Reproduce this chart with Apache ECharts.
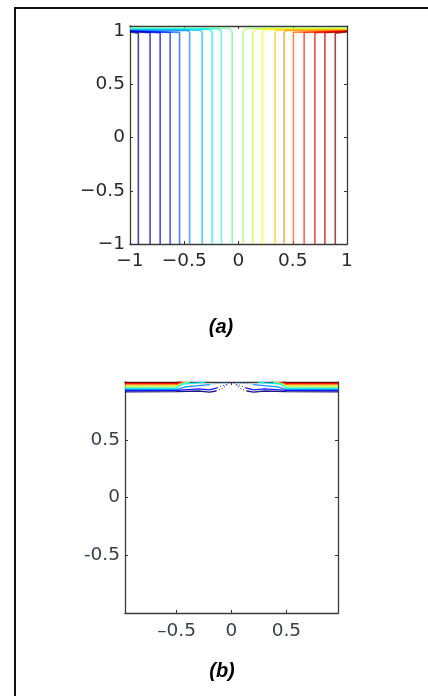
<!DOCTYPE html>
<html><head><meta charset="utf-8">
<script src="https://cdn.jsdelivr.net/npm/echarts@6/dist/echarts.min.js"></script>
<style>html,body{margin:0;padding:0;background:#fff}#c{width:428px;height:696px}</style>
</head><body><div id="c"></div>
<script>
// ---------- Panel (a) data ----------
const aTicks = [-1, -0.5, 0, 0.5, 1];
// x position of each vertical contour line
const aLevels = [-0.923,-0.815,-0.722,-0.63,-0.543,-0.45,-0.335,-0.243,-0.157,-0.058,0.04,0.132,0.22,0.336,0.42,0.506,0.605,0.704,0.796,0.892];
// y where each contour runs horizontally to the side wall
const aTopY = [0.995,0.998,1.0,1.003,1.006,1.009,1.013,1.018,1.024,1.03,1.03,1.024,1.018,1.013,1.009,1.006,1.003,1.0,0.998,0.995];
// bend radius of each contour
const aBend = [0.012,0.012,0.012,0.014,0.016,0.02,0.025,0.03,0.038,0.045,0.045,0.038,0.03,0.025,0.02,0.016,0.014,0.012,0.012,0.012];

// ---------- Panel (b) data ----------
const bXTicks = [-0.5, 0, 0.5];
const bYTicks = [-0.5, 0, 0.5];
// contour level colour positions (jet colormap) and left-half paths
const bLevelT = [1, 0.875, 0.75, 0.625, 0.5, 0.375, 0.25, 0.125, 0];
const bC0 = [[-0.97,0.995],[-0.5,0.995],[-0.47,1.0]];
const bC1 = [[-0.97,0.985],[-0.5,0.985],[-0.45,1.0]];
const bC2 = [[-0.97,0.975],[-0.5,0.975],[-0.43,1.0]];
const bC3 = [[-0.97,0.965],[-0.5,0.965],[-0.41,1.0]];
const bC4 = [[-0.97,0.955],[-0.5,0.955],[-0.44,0.985],[-0.38,1.0]];
const bC5 = [[-0.97,0.945],[-0.5,0.945],[-0.45,0.982],[-0.3,0.992],[-0.24,1.0]];
const bC6 = [[-0.97,0.935],[-0.5,0.935],[-0.42,0.958],[-0.3,0.968],[-0.2,0.978]];
const bC7 = [[-0.97,0.925],[-0.5,0.927],[-0.3,0.94],[-0.2,0.932],[-0.13,0.95]];
const bC8 = [[-0.97,0.915],[-0.5,0.917],[-0.3,0.922],[-0.2,0.912],[-0.14,0.922]];
const bD6 = [[-0.2,0.978],[-0.1,0.99],[-0.03,0.998]];
const bD7 = [[-0.13,0.95],[-0.06,0.975],[-0.02,0.995]];
const bD8 = [[-0.14,0.922],[-0.08,0.945],[-0.03,0.985]];
const bSolid = [bC0,bC1,bC2,bC3,bC4,bC5,bC6,bC7,bC8];
const bDotted = [null,null,null,null,null,null,bD6,bD7,bD8];

function jet(t){
  const c = v => Math.round(255*Math.max(0, Math.min(1, 1.5 - Math.abs(v))));
  return 'rgb(' + c(4*t-3) + ',' + c(4*t-2) + ',' + c(4*t-1) + ')';
}

const series = [];
// panel (a) contours, inner ones first so outer ones sit on top in the band
const order = aLevels.map((v,i)=>i).sort((p,q)=>Math.abs(aLevels[p])-Math.abs(aLevels[q]));
order.forEach(i => {
  const x0 = aLevels[i], yh = aTopY[i], r = aBend[i];
  const side = x0 < 0 ? -1 : 1;
  const pts = [[x0, -1], [x0, yh - r]];
  for (let k = 1; k <= 6; k++) {
    const th = k / 6 * Math.PI / 2;
    pts.push([x0 + side*(r - r*Math.cos(th)), yh - r + r*Math.sin(th)]);
  }
  pts.push([side, yh]);
  series.push({type:'line', xAxisIndex:0, yAxisIndex:0, data:pts, symbol:'none',
    lineStyle:{color:jet(i/(aLevels.length-1)), width:1.6, opacity:0.72}, silent:true});
});
// panel (b) contours (mirrored halves)
function mirror(p){ return p.map(q=>[-q[0], q[1]]); }
bSolid.forEach((p,i) => {
  const col = jet(bLevelT[i]);
  [p, mirror(p)].forEach(d => series.push({type:'line', xAxisIndex:2, yAxisIndex:2, data:d, symbol:'none',
    lineStyle:{color:col, width:1.3, opacity:0.9}, silent:true}));
  if (bDotted[i]) {
    [bDotted[i], mirror(bDotted[i])].forEach(d => series.push({type:'line', xAxisIndex:2, yAxisIndex:2, data:d, symbol:'none',
      lineStyle:{color:col, width:1.2, type:[1,2], opacity:0.7}, silent:true}));
  }
});

const FONT = 'DejaVu Sans';
function fmtTop(v){ return String(v).replace('-', '\u2212'); }
function fmtBX(v){ return String(v).replace('-', '\u2013'); }
function fmtBY(v){ return String(v); }
function axis(grid, pos, min, max, ticks, labels, fmt, color, margin){
  return {type:'value', gridIndex:grid, position:pos, min:min, max:max,
    axisLine:{show:true, onZero:false, lineStyle:{color:'#3a3a3a', width:1.3}},
    axisTick:{show:true, inside:true, length:3, customValues:ticks, lineStyle:{color:'#333'}},
    axisLabel:{show:labels, customValues:ticks, formatter:fmt, fontFamily:FONT, fontSize:18.5, color:color, margin:margin},
    splitLine:{show:false}};
}

const option = {
  animation:false,
  backgroundColor:'#fff',
  grid:[
    {left:130, top:26, width:217, height:218},
    {left:130, top:26, width:217, height:218},
    {left:125, top:382, width:213, height:231},
    {left:125, top:382, width:213, height:231}
  ],
  xAxis:[
    axis(0,'bottom',-1,1,aTicks,true,fmtTop,'#2a2a2a',8),
    axis(1,'top',-1,1,aTicks,false,fmtTop,'#2a2a2a',8),
    axis(2,'bottom',-0.97,0.97,bXTicks,true,fmtBX,'#3a404c',9),
    axis(3,'top',-0.97,0.97,bXTicks,false,fmtBX,'#3a404c',9)
  ],
  yAxis:[
    axis(0,'left',-1,1.05,aTicks,true,fmtTop,'#2a2a2a',5),
    axis(1,'right',-1,1.05,aTicks,false,fmtTop,'#2a2a2a',5),
    axis(2,'left',-1,1,bYTicks,true,fmtBY,'#3a404c',5),
    axis(3,'right',-1,1,bYTicks,false,fmtBY,'#3a404c',5)
  ],
  graphic:[
    {type:'line', shape:{x1:14, y1:8, x2:428, y2:8}, style:{stroke:'#111', lineWidth:2}},
    {type:'line', shape:{x1:15, y1:7, x2:15, y2:696}, style:{stroke:'#111', lineWidth:2}},
    {type:'text', x:221, y:327, style:{text:'(a)', font:'italic bold 20px "Liberation Sans"', fill:'#000', align:'center', verticalAlign:'middle'}},
    {type:'text', x:222, y:671, style:{text:'(b)', font:'italic bold 20px "Liberation Sans"', fill:'#000', align:'center', verticalAlign:'middle'}}
  ],
  series:series
};
const chart = echarts.init(document.getElementById('c'), null, {renderer:'canvas'});
chart.setOption(option);
</script></body></html>
